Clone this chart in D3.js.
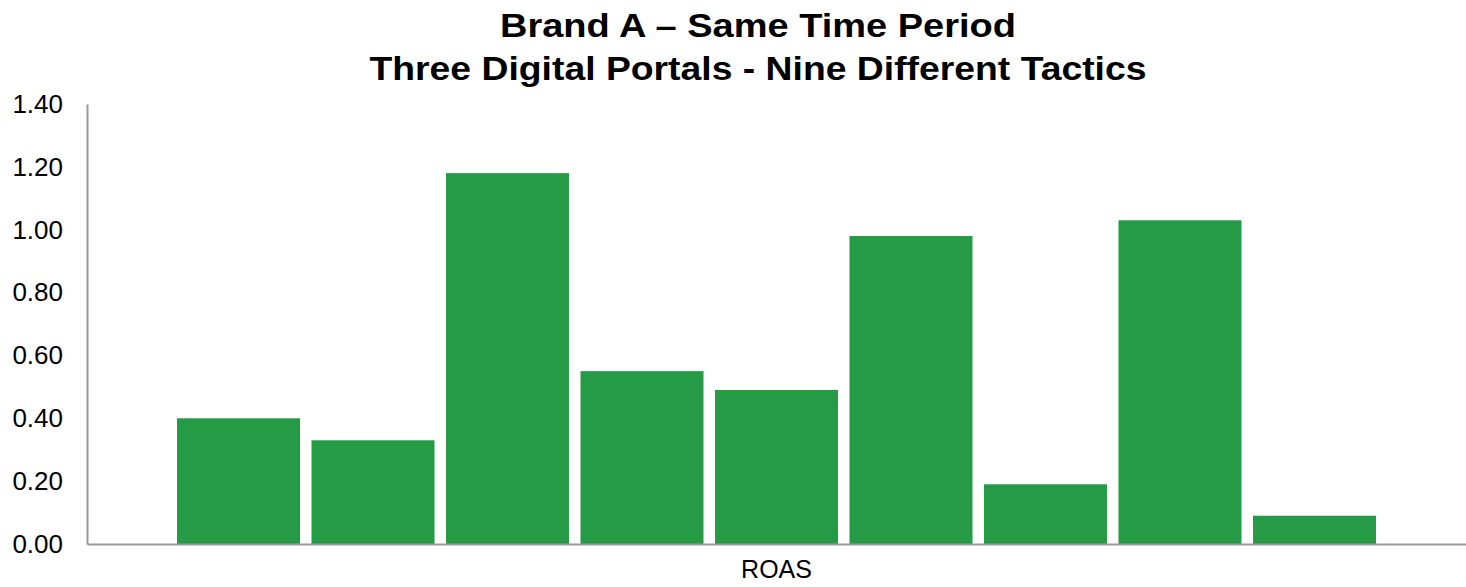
<!DOCTYPE html>
<html>
<head>
<meta charset="utf-8">
<script src="https://cdn.jsdelivr.net/npm/d3@7"></script>
<style>
  body { margin: 0; background: #fff; }
  svg { display: block; font-family: "Liberation Sans", Arial, sans-serif; }
</style>
</head>
<body>
<script>
'use strict';

// chart data
const titleLines = ["Brand A \u2013 Same Time Period", "Three Digital Portals - Nine Different Tactics"];
const metrics = ["ROAS"];
const tactics = ["T1", "T2", "T3", "T4", "T5", "T6", "T7", "T8", "T9"];
const roasValues = [0.40, 0.33, 1.18, 0.55, 0.49, 0.98, 0.19, 1.03, 0.09];
const yTicks = [0, 0.2, 0.4, 0.6, 0.8, 1.0, 1.2, 1.4];

const width = 1466, height = 587;
const margin = { top: 104, right: 0, bottom: 43, left: 87 };

const svg = d3.select("body").append("svg")
  .attr("width", width)
  .attr("height", height);

const y = d3.scaleLinear()
  .domain([0, 1.4])
  .range([height - margin.bottom, margin.top]);

// outer band holds the one category, inner band splits it into the nine tactics
const x0 = d3.scaleBand()
  .domain(metrics)
  .range([margin.left, width - margin.right])
  .paddingOuter(0.0696);

const x1 = d3.scaleBand()
  .domain(tactics)
  .range([0, x0.bandwidth()])
  .paddingInner(0.0855)
  .paddingOuter(0.0428);

// titles (condensed bold like the original)
svg.selectAll("text.title")
  .data(titleLines)
  .enter()
  .append("text")
    .attr("class", "title")
    .attr("x", 758)
    .attr("y", (d, i) => 37 + i * 43)
    .attr("text-anchor", "middle")
    .attr("font-size", 33)
    .attr("font-weight", "bold")
    .attr("textLength", (d, i) => i === 0 ? 516 : 777)
    .attr("lengthAdjust", "spacingAndGlyphs")
    .attr("fill", "#000")
    .text((d) => d);

// bars
svg.append("g")
  .selectAll("rect")
  .data(roasValues.map((v, i) => ({ tactic: tactics[i], value: v })))
  .enter()
  .append("rect")
    .attr("x", (d) => x0("ROAS") + x1(d.tactic))
    .attr("y", (d) => y(d.value))
    .attr("width", x1.bandwidth())
    .attr("height", (d) => y(0) - y(d.value))
    .attr("fill", "#259B45");

// y axis
const yAxis = svg.append("g")
  .attr("transform", `translate(${margin.left},0)`)
  .call(d3.axisLeft(y).tickValues(yTicks).tickFormat(d3.format(".2f")).tickSize(0).tickPadding(24));

yAxis.select(".domain")
  .attr("stroke", "#999")
  .attr("stroke-width", 2);
yAxis.selectAll(".tick text")
  .attr("font-size", 26)
  .attr("font-family", "Liberation Sans, Arial, sans-serif")
  .attr("fill", "#000");

// x axis
const xAxis = svg.append("g")
  .attr("transform", `translate(0,${y(0)})`)
  .call(d3.axisBottom(x0).tickSize(0).tickPadding(16));

xAxis.select(".domain")
  .attr("stroke", "#999")
  .attr("stroke-width", 2);
xAxis.selectAll(".tick text")
  .attr("font-size", 25)
  .attr("font-family", "Liberation Sans, Arial, sans-serif")
  .attr("fill", "#000");
</script>
</body>
</html>
